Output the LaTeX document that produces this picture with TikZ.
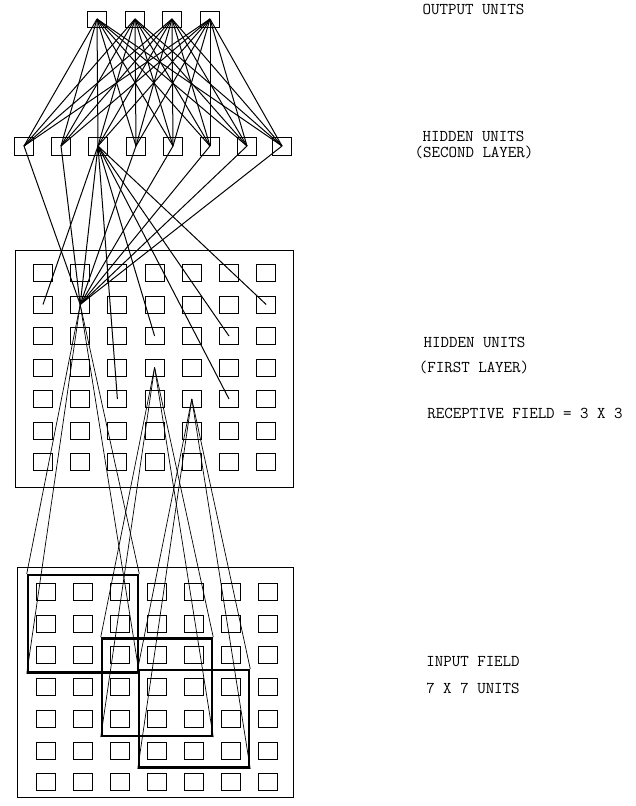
\documentclass[tikz,border=0pt]{standalone}
\usepackage{fontspec}
\usetikzlibrary{fit}
\begin{document}
\begin{tikzpicture}[x=1pt,y=-1pt,
  unitbox/.style={draw,line width=1pt,minimum width=19pt,minimum height=17pt,inner sep=0pt},
  conn/.style={line width=1pt},
  thinconn/.style={line width=0.7pt},
  frame/.style={draw,line width=0.9pt},
  rfbox/.style={draw,line width=2.5pt,inner sep=8pt},
  lbl/.style={font=\fontsize{16.5}{19}\selectfont\ttfamily,anchor=base,inner sep=0pt}]
\useasboundingbox (0,0) rectangle (635,806);

% layer frames
\draw[frame] (15,250) rectangle (293,487);
\draw[frame] (17,567) rectangle (293,797);

% output units
\foreach \i/\x in {1/97,2/135,3/172,4/210}
  \node[unitbox,minimum height=16pt] (o\i) at (\x,19) {};
% hidden units, second layer
\foreach \i/\x in {1/24,2/61,3/98,4/136,5/173,6/210,7/247,8/282}
  \node[unitbox,minimum height=18pt] (s\i) at (\x,146) {};
% hidden units, first layer
\foreach \r in {1,...,7}
  \foreach \c in {1,...,7}
    \node[unitbox] (h-\r-\c) at ({43+37.2*(\c-1)},{273+31.5*(\r-1)}) {};
% input field
\foreach \r in {1,...,7}
  \foreach \c in {1,...,7}
    \node[unitbox] (i-\r-\c) at ({46+37*(\c-1)},{592+31.7*(\r-1)}) {};

% receptive fields
\node[rfbox,fit=(i-1-1)(i-3-3)] (rfA) {};
\node[rfbox,fit=(i-3-3)(i-5-5)] (rfB) {};
\node[rfbox,fit=(i-4-4)(i-6-6)] (rfC) {};

% output -> second layer
\foreach \o in {1,...,4}
  \foreach \s in {1,...,8}
    \draw[conn] (o\o.center) -- (s\s.center);
% second layer -> first layer
\foreach \s in {1,...,8}
  \draw[conn] (s\s.center) -- (h-2-2.center);
\foreach \t in {2-1,5-3,3-4,3-6,2-7,5-6}
  \draw[conn] (s3.center) -- (h-\t.center);
% first layer -> receptive fields
\foreach \a in {north west,north east,south west,south east} {
  \draw[thinconn] (h-2-2.center) -- (rfA.\a);
  \draw[thinconn] (h-4-4.center) -- (rfB.\a);
  \draw[thinconn] (h-5-5.center) -- (rfC.\a);
}

% labels
\node[lbl] (l1) at (473.5,14) {OUTPUT UNITS};
\node[lbl] (l2) at (473.5,141.5) {HIDDEN UNITS};
\node[lbl] (l3) at (474,157.5) {(SECOND LAYER)};
\node[lbl] (l4) at (474.5,347) {HIDDEN UNITS};
\node[lbl] (l5) at (474,372) {(FIRST LAYER)};
\node[lbl] (l6) at (525,418) {RECEPTIVE FIELD = 3 X 3};
\node[lbl] (l7) at (473,666) {INPUT FIELD};
\node[lbl] (l8) at (473,693) {7 X 7 UNITS};
\end{tikzpicture}
\end{document}
